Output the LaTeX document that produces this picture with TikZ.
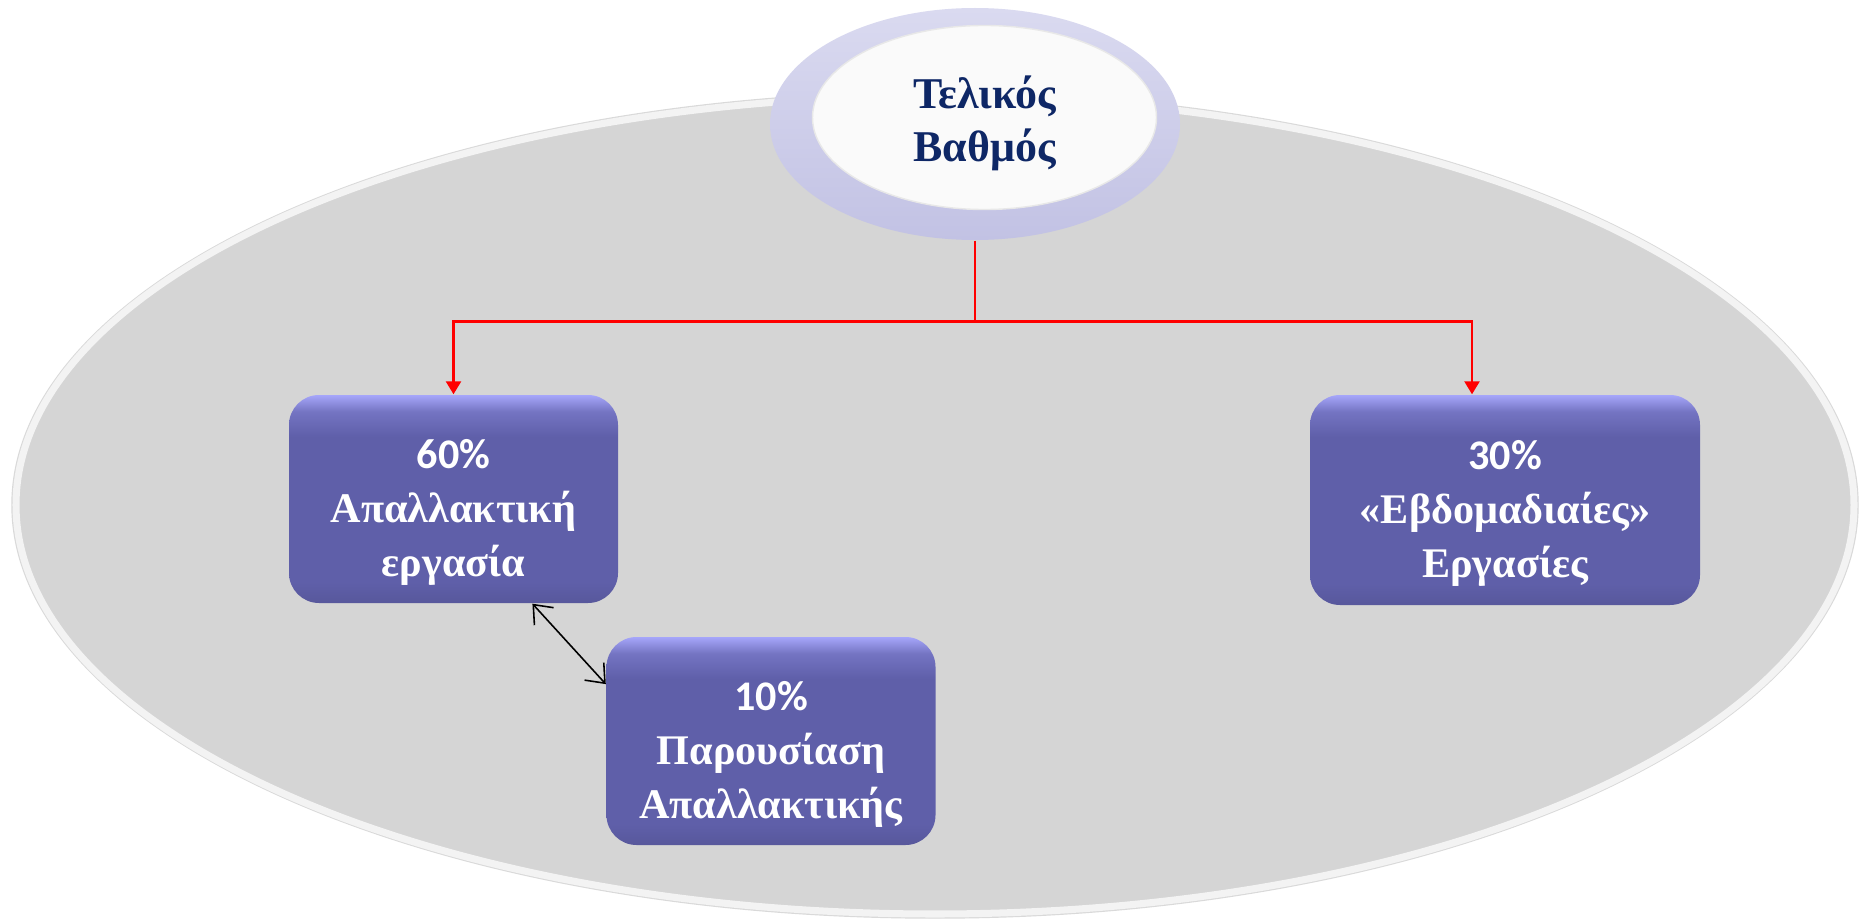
\documentclass[tikz,border=0pt]{standalone}
\usepackage{fontspec}
\setmainfont{Liberation Serif}
\newfontfamily\pctfont{Carlito}
\usetikzlibrary{arrows.meta,shapes.geometric,calc}

\definecolor{boxfill}{HTML}{5F5FA9}
\definecolor{boxmid}{HTML}{7474C2}
\definecolor{boxtop}{HTML}{A6A6FA}
\definecolor{discgray}{HTML}{D5D5D5}
\definecolor{ringcol}{HTML}{C2C2E4}
\definecolor{ringtop}{HTML}{DADAF0}
\definecolor{navytext}{HTML}{0E2766}

% light rim along the top of a card
\pgfdeclareverticalshading{cardshade}{100bp}{color(0bp)=(boxfill!92!black); color(25bp)=(boxfill!92!black);
  color(30bp)=(boxfill); color(65bp)=(boxfill); color(71bp)=(boxmid); color(75bp)=(boxtop); color(100bp)=(boxtop)}
% percentage line, with a strut to push the text down a bit
\newcommand{\pctline}[1]{{\pctfont\rule{0pt}{16pt}#1\%}}

\begin{document}
\begin{tikzpicture}[
    card/.style={rectangle, rounded corners=0.3cm, shading=cardshade,
      minimum width=3.29cm, minimum height=2.08cm, text=white, align=center,
      font=\fontsize{12}{15.4}\selectfont\bfseries},
    ring/.style={ellipse, top color=ringtop, bottom color=ringcol,
      minimum width=4.1cm, minimum height=2.32cm},
    disc/.style={ellipse, fill=white!96!gray, draw=white!82!gray, line width=0.4pt,
      minimum width=3.44cm, minimum height=1.70cm, text=navytext, align=center,
      font=\fontsize{12.5}{15.2}\selectfont\bfseries},
    redlink/.style={draw=red, line width=0.7pt},
    redtip/.style={-{Triangle[width=0.15cm,length=0.13cm]}},
    twoway/.style={{Straight Barb[length=0.16cm,width=0.26cm]}-{Straight Barb[length=0.16cm,width=0.26cm]}, line width=0.45pt}
  ]
  \useasboundingbox[fill=white] (0,0) rectangle (18.59,-9.21);

  % Grey backdrop
  \fill[discgray, draw=gray!30, line width=0.4pt] (9.35,-5.05) ellipse (9.23 and 4.13);
  \draw[white!70!discgray, line width=2pt] (9.35,-5.05) ellipse (9.19 and 4.09);

  % Final grade
  \node[ring] (ring) at (9.75,-1.24) {};
  \node[disc] (grade) at (9.845,-1.175) {\rule{0pt}{12.5pt}Τελικός\\Βαθμός};

  % Parts of the grade
  \node[card] (thesis) at (4.535,-4.99) {\pctline{60}\\Απαλλακτική\\εργασία};
  \node[card] (talk) at (7.71,-7.41) {\pctline{10}\\Παρουσίαση\\Απαλλακτικής};
  \node[card, minimum width=3.90cm, minimum height=2.10cm] (weekly) at (15.05,-5.00) {\pctline{30}\\«Εβδομαδιαίες»\\Εργασίες};

  % Red tree
  \coordinate (split) at ($(ring.south)+(0,-0.81)$);
  \draw[redlink] (ring.south) -- (split);
  \draw[redlink, redtip] (split) -| (thesis.north);
  \draw[redlink, redtip] (split) -| ($(weekly.north)+(-0.33,0)$);

  % Thesis <-> presentation
  \draw[twoway] (thesis.-53) -- (talk.161.5);
\end{tikzpicture}
\end{document}
